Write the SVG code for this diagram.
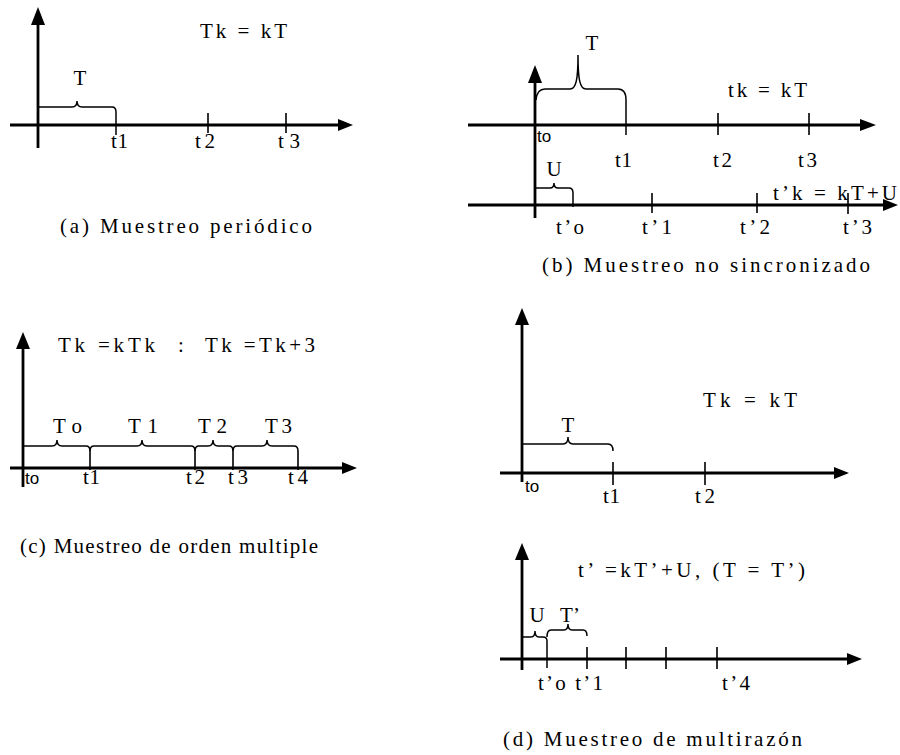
<svg xmlns="http://www.w3.org/2000/svg" width="900" height="755" viewBox="0 0 900 755">
<style>
.ax{stroke:#000;stroke-width:2.8;fill:none}
.tk{stroke:#000;stroke-width:1.6;fill:none}
.br{stroke:#000;stroke-width:1.5;fill:none}
.ah{fill:#000}
.m{text-anchor:middle}
</style>
<rect width="900" height="755" fill="#fff"/>
<g font-family="'Liberation Serif', 'Times New Roman', serif" font-size="21" fill="#000">
<g id="panel-a">
<line class="ax" x1="38" y1="148" x2="38" y2="22"/>
<polygon class="ah" points="38,7 31,25 45,25"/>
<line class="ax" x1="10" y1="125" x2="340" y2="125"/>
<polygon class="ah" points="353,125 338,119 338,131"/>
<path class="br" d="M38,107 L72,107 Q77,107 77,101 Q77,107 82,107 L112,107 Q116,107 116,112 L116,135"/>
<path class="tk" d="M208,113 V133 M286,113 V133"/>
<text x="200" y="38" textLength="87" lengthAdjust="spacing">Tk = kT</text>
<text class="m" x="80" y="85">T</text>
<text x="111" y="148" textLength="17" lengthAdjust="spacing">t1</text>
<text x="195" y="148" textLength="20" lengthAdjust="spacing">t2</text>
<text x="278" y="148" textLength="22" lengthAdjust="spacing">t3</text>
<text x="60" y="233" textLength="252" lengthAdjust="spacing">(a) Muestreo periódico</text>
</g>
<g id="panel-b">
<line class="ax" x1="535" y1="218" x2="535" y2="80"/>
<polygon class="ah" points="535,65 528,83 542,83"/>
<line class="ax" x1="468" y1="125" x2="862" y2="125"/>
<polygon class="ah" points="876,125 860,119 860,131"/>
<path class="br" d="M536,100 Q537,89 545,89 L570,89 C576,89 578,80 578,55 C578,80 580,89 586,89 L618,89 Q626,89 626,100 L626,135"/>
<path class="tk" d="M718,113 V135 M809,113 V135"/>
<line class="ax" x1="468" y1="205" x2="884" y2="205"/>
<polygon class="ah" points="898,205 883,199 883,211"/>
<path class="br" d="M535,188 L550,188 Q554,188 554,183 Q554,188 558,188 L569,188 Q573,188 573,193 L573,207"/>
<path class="tk" d="M652,193 V213 M757,193 V213 M848,193 V214"/>
<text class="m" x="592" y="50">T</text>
<text x="728" y="97" textLength="79" lengthAdjust="spacing">tk = kT</text>
<text x="537" y="142" font-family="'Liberation Sans', Arial, sans-serif" font-size="17">to</text>
<text x="615" y="167" textLength="17" lengthAdjust="spacing">t1</text>
<text x="713" y="167" textLength="19" lengthAdjust="spacing">t2</text>
<text x="798" y="167" textLength="19" lengthAdjust="spacing">t3</text>
<text class="m" x="554" y="176">U</text>
<text x="773" y="200" textLength="124" lengthAdjust="spacing">t’k = kT+U</text>
<text x="556" y="234" textLength="28" lengthAdjust="spacing">t’o</text>
<text x="642" y="234" textLength="30" lengthAdjust="spacing">t’1</text>
<text x="740" y="234" textLength="30" lengthAdjust="spacing">t’2</text>
<text x="843" y="234" textLength="29" lengthAdjust="spacing">t’3</text>
<text x="542" y="272" textLength="328" lengthAdjust="spacing">(b) Muestreo no sincronizado</text>
</g>
<g id="panel-c">
<line class="ax" x1="23" y1="487" x2="23" y2="345"/>
<polygon class="ah" points="23,332 16,349 30,349"/>
<line class="ax" x1="10" y1="468" x2="343" y2="468"/>
<polygon class="ah" points="357,468 342,462 342,474"/>
<path class="br" d="M23,446 L52,446 Q57,446 57,440 Q57,446 62,446 L86,446 Q90,446 90,451"/>
<path class="br" d="M90,451 Q90,446 94,446 L137,446 Q142,446 142,440 Q142,446 147,446 L191,446 Q195,446 195,451"/>
<path class="br" d="M195,451 Q195,446 199,446 L208,446 Q213,446 213,440 Q213,446 218,446 L229,446 Q233,446 233,451"/>
<path class="br" d="M233,451 Q233,446 237,446 L262,446 Q267,446 267,440 Q267,446 272,446 L294,446 Q298,446 298,451"/>
<path class="tk" d="M90,451 V470 M195,451 V470 M233,451 V470 M298,451 V470"/>
<text x="58" y="352" textLength="97" lengthAdjust="spacing">Tk =kTk</text>
<text x="178" y="352">:</text>
<text x="205" y="352" textLength="110" lengthAdjust="spacing">Tk =Tk+3</text>
<text x="53" y="433" textLength="29" lengthAdjust="spacing">To</text>
<text x="128" y="433" textLength="30" lengthAdjust="spacing">T1</text>
<text x="198" y="433" textLength="29" lengthAdjust="spacing">T2</text>
<text x="265" y="433" textLength="27" lengthAdjust="spacing">T3</text>
<text x="25" y="484" font-family="'Liberation Sans', Arial, sans-serif" font-size="17">to</text>
<text x="83" y="484" textLength="17" lengthAdjust="spacing">t1</text>
<text x="186" y="484" textLength="19" lengthAdjust="spacing">t2</text>
<text x="228" y="484" textLength="20" lengthAdjust="spacing">t3</text>
<text x="288" y="484" textLength="20" lengthAdjust="spacing">t4</text>
<text x="20" y="553" textLength="298" lengthAdjust="spacing">(c) Muestreo de orden multiple</text>
</g>
<g id="panel-d">
<line class="ax" x1="522" y1="482" x2="522" y2="322"/>
<polygon class="ah" points="522,308 515,325 529,325"/>
<line class="ax" x1="500" y1="473" x2="835" y2="473"/>
<polygon class="ah" points="849,473 834,467 834,479"/>
<path class="br" d="M522,444 L563,444 Q568,444 568,437 Q568,444 573,444 L608,444 Q613,444 613,451"/>
<path class="tk" d="M613,462 V485 M705,462 V485"/>
<text x="703" y="407" textLength="94" lengthAdjust="spacing">Tk = kT</text>
<text class="m" x="568" y="432">T</text>
<text x="525" y="492" font-family="'Liberation Sans', Arial, sans-serif" font-size="17">to</text>
<text x="603" y="503" textLength="17" lengthAdjust="spacing">t1</text>
<text x="695" y="503" textLength="20" lengthAdjust="spacing">t2</text>
<line class="ax" x1="522" y1="670" x2="522" y2="558"/>
<polygon class="ah" points="522,543 515,560 529,560"/>
<line class="ax" x1="500" y1="659" x2="848" y2="659"/>
<polygon class="ah" points="862,659 847,653 847,665"/>
<path class="br" d="M522,637 L531,637 Q535,637 535,631 Q535,637 539,637 L543,637 Q547,637 547,641 L547,668"/>
<path class="br" d="M547,637 Q547,630 551,630 L564,630 Q568,630 568,624 Q568,630 572,630 L583,630 Q587,630 587,636"/>
<path class="tk" d="M587,647 V669 M626,647 V669 M666,647 V669 M717,647 V669"/>
<text x="578" y="577" textLength="227" lengthAdjust="spacing">t’ =kT’+U,  (T = T’)</text>
<text class="m" x="537" y="622">U</text>
<text class="m" x="570" y="622">T’</text>
<text x="538" y="690" textLength="65" lengthAdjust="spacing">t’o t’1</text>
<text x="722" y="690" textLength="28" lengthAdjust="spacing">t’4</text>
<text x="503" y="746" textLength="299" lengthAdjust="spacing">(d) Muestreo de multirazón</text>
</g>
</g>
</svg>
